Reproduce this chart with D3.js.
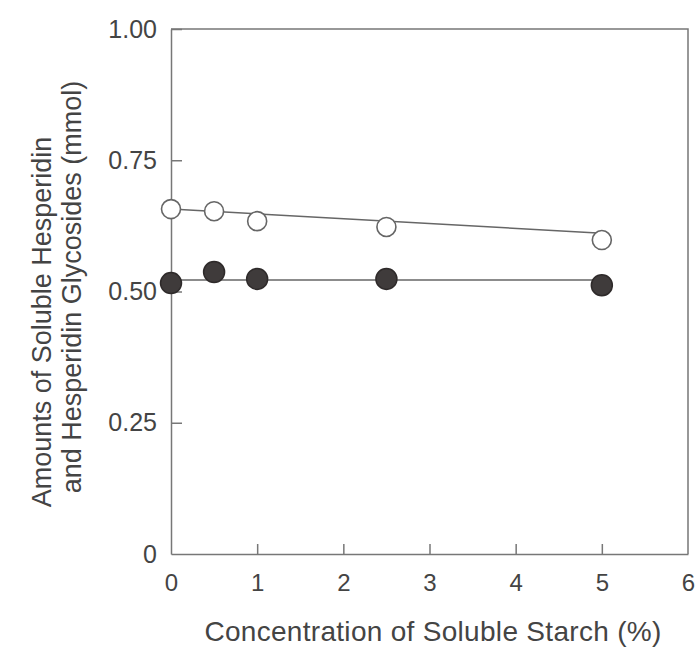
<!DOCTYPE html>
<html>
<head>
<meta charset="utf-8">
<script src="https://cdn.jsdelivr.net/npm/d3@7/dist/d3.min.js"></script>
<style>
  html, body { margin: 0; padding: 0; background: #ffffff; }
  svg { display: block; }
  text { font-family: "Liberation Sans", Arial, Helvetica, sans-serif; fill: #444; }
</style>
</head>
<body>
<div id="chart"></div>
<script>
// ---- data ----
const concentration = [0, 0.5, 1, 2.5, 5];
const openValues = [0.657, 0.653, 0.634, 0.623, 0.598];   // open circles
const filledValues = [0.516, 0.537, 0.524, 0.524, 0.512]; // filled circles
const fitX = [0, 5];
const openFit = [0.657, 0.611];
const filledFit = [0.522, 0.522];
const xTicks = [0, 1, 2, 3, 4, 5, 6];
const xTickLabels = ["0", "1", "2", "3", "4", "5", "6"];
const yTicks = [0, 0.25, 0.5, 0.75, 1.0];
const yTickLabels = ["0", "0.25", "0.50", "0.75", "1.00"];
const xTitle = "Concentration of Soluble Starch (%)";
const yTitleLines = ["Amounts of Soluble Hesperidin", "and Hesperidin Glycosides (mmol)"];

// ---- layout ----
const W = 696, H = 650;
const svg = d3.select("#chart").append("svg").attr("width", W).attr("height", H);
const x = d3.scaleLinear().domain([0, 6]).range([171, 688]);
const y = d3.scaleLinear().domain([0, 1]).range([554, 29]);
const axisColor = "#777";
const fontFam = "'Liberation Sans', Arial, sans-serif";

// frame (top and right)
svg.append("path")
  .attr("d", `M${x(0)},${y(1)}H${x(6)}V${y(0)}`)
  .attr("fill", "none").attr("stroke", axisColor).attr("stroke-width", 1.5);

// y axis
const yAxis = d3.axisLeft(y).tickValues(yTicks)
  .tickFormat((d, i) => yTickLabels[i]).tickSizeInner(-11).tickSizeOuter(0).tickPadding(14);
const gy = svg.append("g").attr("transform", `translate(${x(0)},0)`).call(yAxis);
gy.selectAll("path, line").attr("stroke", axisColor).attr("stroke-width", 1.5);
gy.selectAll("text").attr("font-size", 25).attr("fill", "#444").attr("font-family", fontFam);
gy.selectAll(".tick").filter(d => d === 0).select("line").remove();

// x axis
const xAxis = d3.axisBottom(x).tickValues(xTicks)
  .tickFormat((d, i) => xTickLabels[i]).tickSizeInner(-10).tickSizeOuter(0).tickPadding(20);
const gx = svg.append("g").attr("transform", `translate(0,${y(0)})`).call(xAxis);
gx.selectAll("path, line").attr("stroke", axisColor).attr("stroke-width", 1.5);
gx.selectAll("text").attr("font-size", 24).attr("fill", "#444").attr("font-family", fontFam);
gx.selectAll(".tick").filter(d => d === 0 || d === 6).select("line").remove();

// titles
svg.append("text").attr("x", 433).attr("y", 641).attr("text-anchor", "middle")
  .attr("font-size", 28).attr("letter-spacing", 0.3).text(xTitle);
const yCenters = [322, 287];
const ySizes = [27, 27];
yTitleLines.forEach((t, i) => {
  svg.append("text")
    .attr("transform", `translate(${51 + i * 30},${yCenters[i]}) rotate(-90)`)
    .attr("text-anchor", "middle").attr("font-size", ySizes[i]).text(t);
});

// fit lines
const line = d3.line().x(d => x(d[0])).y(d => y(d[1]));
svg.append("path").datum(fitX.map((v, i) => [v, openFit[i]]))
  .attr("d", line).attr("fill", "none").attr("stroke", "#666").attr("stroke-width", 1.5);
svg.append("path").datum(fitX.map((v, i) => [v, filledFit[i]]))
  .attr("d", line).attr("fill", "none").attr("stroke", "#666").attr("stroke-width", 1.5);

// points
svg.append("g").selectAll("circle").data(concentration.map((c, i) => [c, filledValues[i]]))
  .join("circle").attr("cx", d => x(d[0])).attr("cy", d => y(d[1])).attr("r", 10.5)
  .attr("fill", "#3f3b3b").attr("stroke", "#2e2a2a").attr("stroke-width", 1.5);
svg.append("g").selectAll("circle").data(concentration.map((c, i) => [c, openValues[i]]))
  .join("circle").attr("cx", d => x(d[0])).attr("cy", d => y(d[1])).attr("r", 9.5)
  .attr("fill", "#fff").attr("stroke", "#666").attr("stroke-width", 1.6);
</script>
</body>
</html>
